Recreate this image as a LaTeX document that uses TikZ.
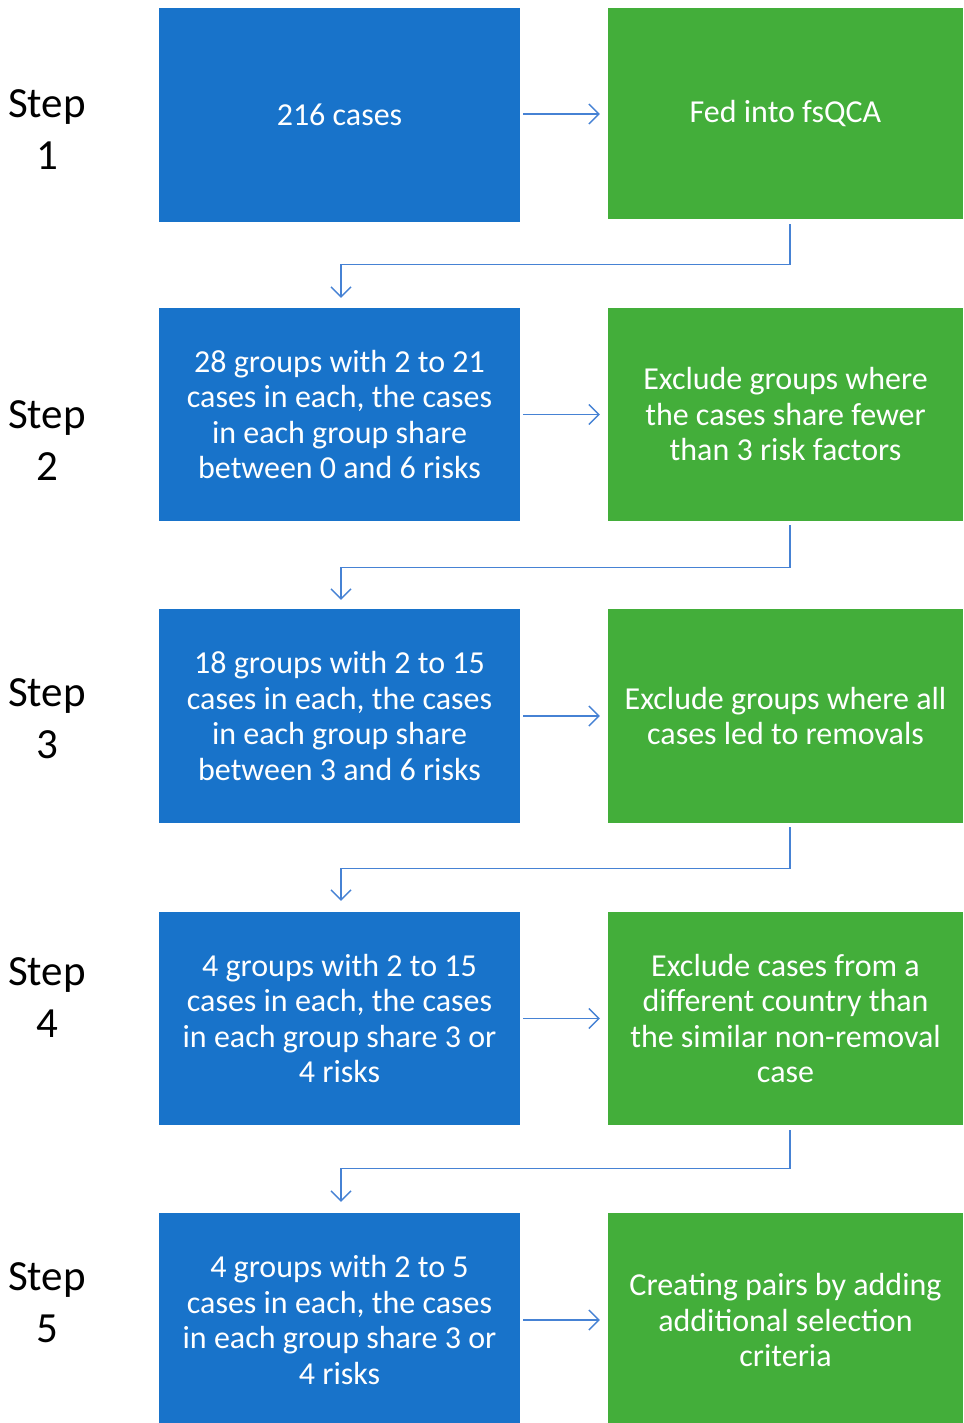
\documentclass[tikz,border=0pt]{standalone}
\usepackage{fontspec}
\setmainfont{Carlito}
\usetikzlibrary{arrows.meta}
\definecolor{bluebox}{RGB}{24,115,202}
\definecolor{greenbox}{RGB}{67,174,58}
\definecolor{conncol}{RGB}{70,130,212}
\tikzset{
  bluebox/.style={fill=bluebox, draw=none, minimum width=361pt, minimum height=214pt, inner sep=0pt, text=white, align=center, font=\fontsize{32}{35.5}\selectfont},
  greenbox/.style={fill=greenbox, draw=none, minimum width=355pt, minimum height=213pt, inner sep=0pt, text=white, align=center, font=\fontsize{32}{35.5}\selectfont},
  steplabel/.style={align=center, text=black, font=\fontsize{43}{52}\selectfont, inner sep=0pt},
  conn/.style={draw=conncol, line width=1.4pt, -{Straight Barb[length=10pt,width=20pt,line width=1.4pt]}},
}
\begin{document}
\begin{tikzpicture}[x=1pt,y=-1pt]
\useasboundingbox (0,0) rectangle (963,1423);
% row 1
\node[bluebox] (b1) at (339.5,115) {216 cases};
\node[greenbox, minimum height=211pt] (g1) at (785.5,113.5) {Fed into fsQCA};
\node[steplabel] (s1) at (47,130) {Step\\1};
% row 2
\node[bluebox, minimum height=213pt] (b2) at (339.5,414.5) {28 groups with 2 to 21\\cases in each, the cases\\in each group share\\between 0 and 6 risks};
\node[greenbox] (g2) at (785.5,414.5) {Exclude groups where\\the cases share fewer\\than 3 risk factors};
\node[steplabel] (s2) at (47,441) {Step\\2};
% row 3
\node[bluebox] (b3) at (339.5,716) {18 groups with 2 to 15\\cases in each, the cases\\in each group share\\between 3 and 6 risks};
\node[greenbox, minimum height=214pt] (g3) at (785.5,716) {Exclude groups where all\\cases led to removals};
\node[steplabel] (s3) at (47,719) {Step\\3};
% row 4
\node[bluebox, minimum height=213pt] (b4) at (339.5,1018.5) {4 groups with 2 to 15\\cases in each, the cases\\in each group share 3 or\\4 risks};
\node[greenbox] (g4) at (785.5,1018.5) {Exclude cases from a\\different country than\\the similar non-removal\\case};
\node[steplabel] (s4) at (47,998) {Step\\4};
% row 5
\node[bluebox] (b5) at (339.5,1320) {4 groups with 2 to 5\\cases in each, the cases\\in each group share 3 or\\4 risks};
\node[greenbox, minimum height=214pt] (g5) at (785.5,1320) {Creating pairs by adding\\additional selection\\criteria};
\node[steplabel] (s5) at (47,1303) {Step\\5};
% horizontal arrows
\draw[conn, shorten <=3pt, shorten >=8pt] (b1.east |- 0,114) -- (g1.west |- 0,114);
\draw[conn, shorten <=3pt, shorten >=8pt] (b2.east) -- (g2.west);
\draw[conn, shorten <=3pt, shorten >=8pt] (b3.east) -- (g3.west);
\draw[conn, shorten <=3pt, shorten >=8pt] (b4.east) -- (g4.west);
\draw[conn, shorten <=3pt, shorten >=8pt] (b5.east) -- (g5.west);
% vertical connectors
\draw[conn, shorten <=5pt, shorten >=10pt] ([xshift=4.5pt]g1.south) -- ++(0,45) -| ([xshift=1.5pt]b2.north);
\draw[conn, shorten <=4pt, shorten >=9pt] ([xshift=4.5pt]g2.south) -- ++(0,46) -| ([xshift=1.5pt]b3.north);
\draw[conn, shorten <=4pt, shorten >=11pt] ([xshift=4.5pt]g3.south) -- ++(0,45) -| ([xshift=1.5pt]b4.north);
\draw[conn, shorten <=5pt, shorten >=11pt] ([xshift=4.5pt]g4.south) -- ++(0,43) -| ([xshift=1.5pt]b5.north);
\end{tikzpicture}
\end{document}
